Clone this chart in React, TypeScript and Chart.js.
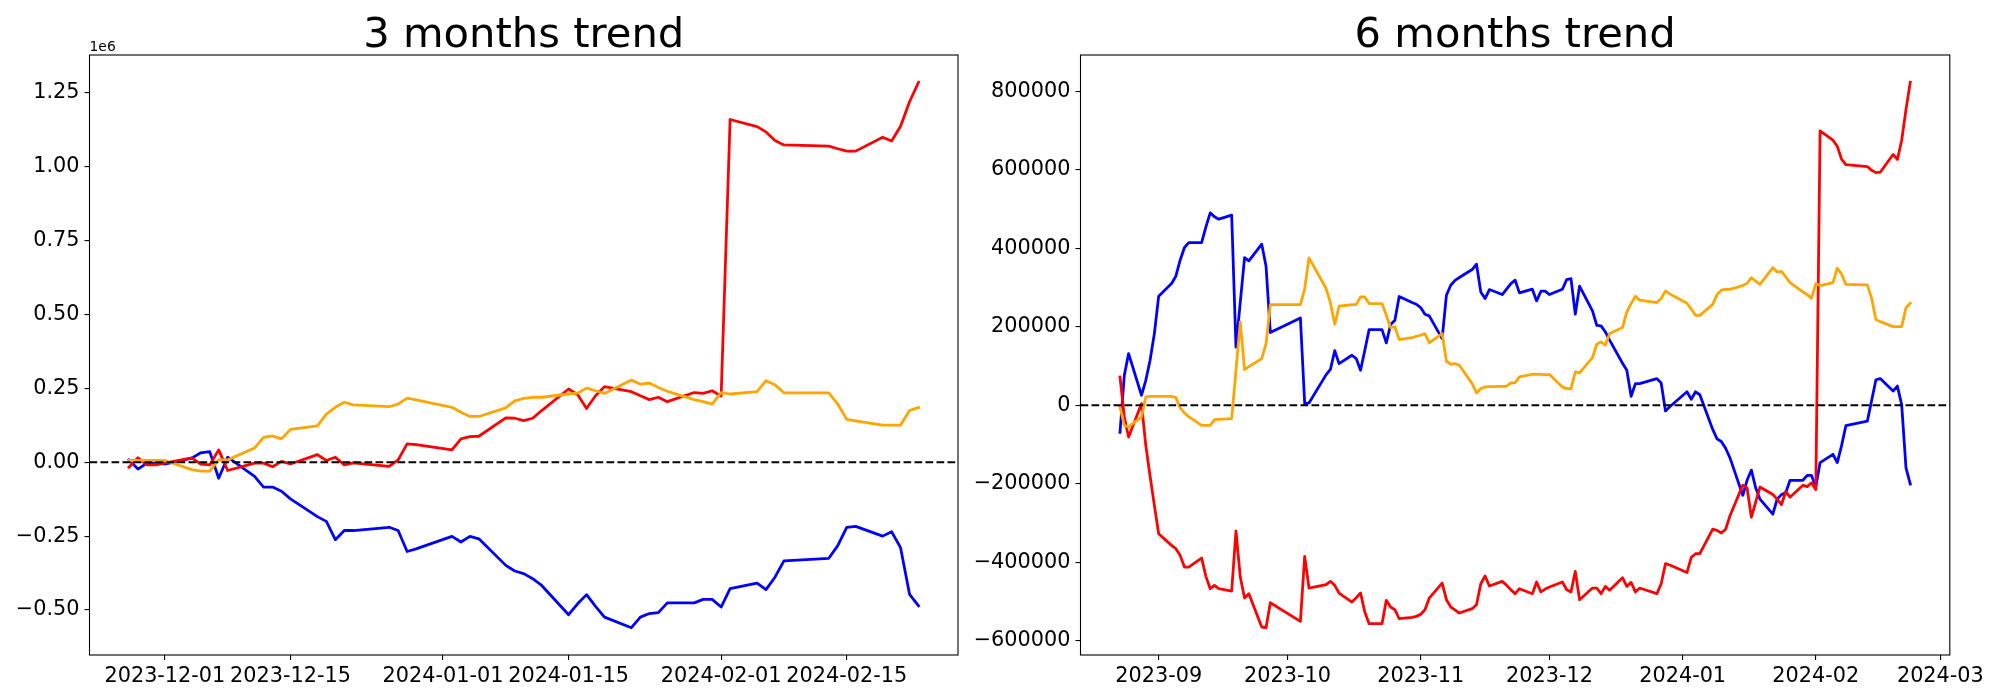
import React, { useEffect, useRef } from "react";
import { Chart, registerables } from "chart.js";

Chart.register(...registerables);

// ---------- 3 months trend (values in units of 1e6) ----------
const dates3m = [
  "2023-11-27", "2023-11-28", "2023-11-29", "2023-11-30", "2023-12-01",
  "2023-12-04", "2023-12-05", "2023-12-06", "2023-12-07", "2023-12-08",
  "2023-12-11", "2023-12-12", "2023-12-13", "2023-12-14", "2023-12-15",
  "2023-12-18", "2023-12-19", "2023-12-20", "2023-12-21", "2023-12-22",
  "2023-12-26", "2023-12-27", "2023-12-28", "2023-12-29",
  "2024-01-02", "2024-01-03", "2024-01-04", "2024-01-05",
  "2024-01-08", "2024-01-09", "2024-01-10", "2024-01-11", "2024-01-12",
  "2024-01-15", "2024-01-16", "2024-01-17", "2024-01-18", "2024-01-19",
  "2024-01-22", "2024-01-23", "2024-01-24", "2024-01-25", "2024-01-26",
  "2024-01-29", "2024-01-30", "2024-01-31", "2024-02-01", "2024-02-02",
  "2024-02-05", "2024-02-06", "2024-02-07", "2024-02-08",
  "2024-02-13", "2024-02-14", "2024-02-15", "2024-02-16",
  "2024-02-19", "2024-02-20", "2024-02-21", "2024-02-22", "2024-02-23",
];
const red3m = [
  -0.017, 0.015, -0.009, -0.009, -0.003,
  0.015, -0.006, -0.009, 0.042, -0.028,
  -0.003, -0.003, -0.015, 0.003, -0.006,
  0.026, 0.006, 0.017, -0.009, -0.002,
  -0.014, 0.008, 0.062, 0.06,
  0.042, 0.079, 0.087, 0.088,
  0.15, 0.149, 0.141, 0.149, 0.175,
  0.248, 0.229, 0.182, 0.225, 0.256,
  0.239, 0.225, 0.212, 0.22, 0.205,
  0.236, 0.233, 0.242, 0.224, 1.16,
  1.136, 1.118, 1.089, 1.074,
  1.07, 1.061, 1.053, 1.053,
  1.1, 1.087, 1.137, 1.22, 1.286,
];
const blue3m = [
  0.008, -0.023, -0.003, 0.0, -0.006,
  0.014, 0.032, 0.036, -0.054, 0.017,
  -0.048, -0.084, -0.084, -0.098, -0.124,
  -0.184, -0.2, -0.262, -0.231, -0.231,
  -0.22, -0.231, -0.302, -0.293,
  -0.251, -0.27, -0.251, -0.259,
  -0.349, -0.368, -0.377, -0.394, -0.417,
  -0.516, -0.479, -0.448, -0.488, -0.524,
  -0.56, -0.524, -0.512, -0.509, -0.476,
  -0.476, -0.464, -0.464, -0.49, -0.428,
  -0.409, -0.431, -0.389, -0.334,
  -0.325, -0.282, -0.22, -0.217,
  -0.25, -0.235, -0.289, -0.447, -0.486,
];
const orange3m = [
  0.006, 0.006, 0.006, 0.006, 0.006,
  -0.025, -0.03, -0.03, 0.008, 0.008,
  0.048, 0.084, 0.089, 0.079, 0.111,
  0.123, 0.163, 0.186, 0.203, 0.194,
  0.188, 0.197, 0.217, 0.211,
  0.186, 0.169, 0.155, 0.155,
  0.184, 0.208, 0.216, 0.22, 0.22,
  0.231, 0.234, 0.251, 0.242, 0.233,
  0.278, 0.264, 0.268, 0.253, 0.24,
  0.212, 0.205, 0.197, 0.236, 0.231,
  0.239, 0.276, 0.262, 0.235,
  0.235, 0.197, 0.145, 0.14,
  0.126, 0.126, 0.126, 0.175, 0.185,
];
const xTicks3m = ["2023-12-01", "2023-12-15", "2024-01-01", "2024-01-15", "2024-02-01", "2024-02-15"];
const yTicks3m = [-0.5, -0.25, 0, 0.25, 0.5, 0.75, 1.0, 1.25];

// ---------- 6 months trend ----------
const dates6m = [
  "2023-08-23", "2023-08-24", "2023-08-25", "2023-08-28", "2023-08-29", "2023-08-30", "2023-08-31",
  "2023-09-01", "2023-09-04", "2023-09-05", "2023-09-06", "2023-09-07", "2023-09-08",
  "2023-09-11", "2023-09-12", "2023-09-13", "2023-09-14", "2023-09-15",
  "2023-09-18", "2023-09-19", "2023-09-20", "2023-09-21", "2023-09-22",
  "2023-09-25", "2023-09-26", "2023-09-27",
  "2023-10-04", "2023-10-05", "2023-10-06",
  "2023-10-10", "2023-10-11", "2023-10-12", "2023-10-13",
  "2023-10-16", "2023-10-17", "2023-10-18", "2023-10-19", "2023-10-20",
  "2023-10-23", "2023-10-24", "2023-10-25", "2023-10-26", "2023-10-27",
  "2023-10-30", "2023-10-31", "2023-11-01", "2023-11-02", "2023-11-03",
  "2023-11-06", "2023-11-07", "2023-11-08", "2023-11-09", "2023-11-10",
  "2023-11-13", "2023-11-14", "2023-11-15", "2023-11-16", "2023-11-17",
  "2023-11-20", "2023-11-21", "2023-11-22", "2023-11-23", "2023-11-24",
  "2023-11-27", "2023-11-28", "2023-11-29", "2023-11-30", "2023-12-01",
  "2023-12-04", "2023-12-05", "2023-12-06", "2023-12-07", "2023-12-08",
  "2023-12-11", "2023-12-12", "2023-12-13", "2023-12-14", "2023-12-15",
  "2023-12-18", "2023-12-19", "2023-12-20", "2023-12-21", "2023-12-22",
  "2023-12-26", "2023-12-27", "2023-12-28", "2023-12-29",
  "2024-01-02", "2024-01-03", "2024-01-04", "2024-01-05",
  "2024-01-08", "2024-01-09", "2024-01-10", "2024-01-11", "2024-01-12",
  "2024-01-15", "2024-01-16", "2024-01-17", "2024-01-18", "2024-01-19",
  "2024-01-22", "2024-01-23", "2024-01-24", "2024-01-25", "2024-01-26",
  "2024-01-29", "2024-01-30", "2024-01-31", "2024-02-01", "2024-02-02",
  "2024-02-05", "2024-02-06", "2024-02-07", "2024-02-08",
  "2024-02-13", "2024-02-14", "2024-02-15", "2024-02-16",
  "2024-02-19", "2024-02-20", "2024-02-21", "2024-02-22", "2024-02-23",
];
const blue6m = [
  -69000, 76400, 131600, 25500, 63700, 114700, 182600,
  277700, 310000, 328700, 369400, 401700, 414400,
  414400, 454400, 490000, 480000, 473900,
  484100, 148000, 262000, 376200, 367700,
  410200, 354200, 185100,
  222500, 4200, 5900,
  78000, 91700, 139300, 106200,
  127400, 118900, 89200, 140000, 192800,
  192800, 158800, 205500, 216600, 277000,
  262000, 257300, 248800, 231900, 227600,
  169900, 280300, 305700, 318000, 325300,
  345700, 359300, 288800, 271800, 294700,
  282000, 296000, 310000, 318500, 286200,
  295600, 265800, 290500, 290500, 282000,
  295600, 320200, 322700, 231900, 303200,
  240300, 203800, 202100, 186800, 166000,
  107000, 89200, 22900, 55200, 55200,
  67900, 56900, -14400, -3900,
  34400, 15200, 34400, 26800,
  -61400, -85400, -92100, -109400, -133400,
  -229300, -191000, -165000, -210000, -239000,
  -277400, -239000, -227500, -222700, -191000,
  -191000, -178500, -178500, -208300, -146000,
  -124900, -146000, -102800, -52000,
  -40400, 12000, 65100, 68100,
  36400, 48900, 900, -159300, -200600,
];
const red6m = [
  72200, -29700, -80700, 4200, -102000, -180000, -255000,
  -327000, -356700, -365200, -382200, -411900, -411900,
  -389000, -435700, -467100, -458600, -467100,
  -473000, -320200, -437400, -490900, -479800,
  -564800, -566500, -502800,
  -550300, -384700, -465400,
  -456900, -448400, -458600, -478100,
  -501100, -490000, -478100, -526600, -556300,
  -556300, -496800, -513800, -520600, -543600,
  -540000, -537600, -532500, -520600, -490900,
  -452700, -495100, -513800, -521000, -529100,
  -518000, -507900, -454400, -434800, -460300,
  -448400, -458000, -469700, -479800, -467100,
  -479800, -450100, -475400, -468000, -462900,
  -450100, -469700, -475400, -422900, -495100,
  -465400, -465400, -479800, -461200, -471300,
  -439100, -461200, -451000, -475400, -465400,
  -479800, -454400, -403400, -406700,
  -425900, -387500, -377900, -377900,
  -315600, -318500, -325200, -315600, -282000,
  -203400, -210200, -285000, -246500, -208200,
  -227400, -238900, -253200, -219700, -234100,
  -203400, -207200, -197600, -214900, 699000,
  675000, 659600, 627000, 612700,
  607900, 598300, 592500, 593500,
  638600, 626100, 675000, 753600, 822600,
];
const orange6m = [
  -4200, -51000, -55200, -29700, 21200, 22900, 22900,
  22900, 22900, 19500, -6800, -19500, -29000,
  -51000, -51000, -51000, -36500, -36000,
  -34000, 89000, 212300, 90900, 98500,
  118900, 157100, 256500,
  256500, 297300, 375400,
  297300, 260700, 206400, 252200,
  256500, 256500, 276000, 276000, 259000,
  259000, 229300, 198000, 200000, 167300,
  172000, 175800, 178400, 182600, 158800,
  182600, 112100, 104500, 106200, 101900,
  55200, 31400, 42500, 46700, 47500,
  48000, 48400, 56900, 57800, 72200,
  79000, 78500, 78500, 78100, 78100,
  46700, 42500, 42500, 84900, 82400,
  121400, 155400, 161400, 152900, 182600,
  197900, 237800, 259000, 277700, 267500,
  261600, 271800, 291300, 283700,
  259800, 245000, 229100, 229100,
  256900, 281800, 293300, 295200, 295200,
  304800, 310500, 324900, 316000, 307700,
  350800, 339300, 341200, 326800, 312400,
  288500, 281800, 272200, 309600, 304800,
  312400, 349000, 334600, 307700,
  306700, 272200, 218500, 213000,
  200300, 200300, 200300, 248200, 259800,
];
const xTicks6m = ["2023-09", "2023-10", "2023-11", "2023-12", "2024-01", "2024-02", "2024-03"];
const yTicks6m = [-600000, -400000, -200000, 0, 200000, 400000, 600000, 800000];

const FONT = "'DejaVu Sans', 'Liberation Sans', sans-serif";

function toDay(s: string): number {
  const y = +s.slice(0, 4);
  const m = +s.slice(5, 7);
  const d = s.length >= 10 ? +s.slice(8, 10) : 1;
  return Date.UTC(y, m - 1, d) / 86400000;
}

const minus = (s: string) => s.replace("-", "\u2212");

const decorPlugin = {
  id: "decor",
  afterDatasetsDraw(chart: any) {
    const { ctx, chartArea: a, scales } = chart;
    const y0 = scales.y.getPixelForValue(0);
    ctx.save();
    ctx.beginPath();
    ctx.rect(a.left, a.top, a.right - a.left, a.bottom - a.top);
    ctx.clip();
    ctx.setLineDash([7.7, 3.3]);
    ctx.lineWidth = 2.08;
    ctx.strokeStyle = "#000";
    ctx.beginPath();
    ctx.moveTo(a.left, y0);
    ctx.lineTo(a.right, y0);
    ctx.stroke();
    ctx.restore();
  },
  afterDraw(chart: any, _args: any, opts: any) {
    const { ctx, chartArea: a } = chart;
    ctx.save();
    ctx.setLineDash([]);
    ctx.lineWidth = 1.1;
    ctx.strokeStyle = "#000";
    ctx.strokeRect(a.left, a.top, a.right - a.left, a.bottom - a.top);
    ctx.fillStyle = "#000";
    ctx.textBaseline = "alphabetic";
    ctx.textAlign = "center";
    ctx.font = `41.7px ${FONT}`;
    ctx.fillText(opts.title, (a.left + a.right) / 2, 47);
    if (opts.offsetText) {
      ctx.textAlign = "left";
      ctx.font = `13.9px ${FONT}`;
      ctx.fillText(opts.offsetText, a.left, 51);
    }
    ctx.restore();
  },
};

type Props = {
  title: string;
  dates: string[];
  red: number[];
  blue: number[];
  orange: number[];
  xTicks: string[];
  yTicks: number[];
  yFormat: (v: number) => string;
  offsetText?: string;
  left: number;
  width: number;
  axisWidth: number;
  padRight: number;
};

function TrendChart(p: Props) {
  const ref = useRef<HTMLCanvasElement | null>(null);
  useEffect(() => {
    if (!ref.current) return;
    const xs = p.dates.map(toDay);
    const mk = (vals: number[]) => vals.map((v, i) => ({ x: xs[i], y: v }));
    const all = [...p.red, ...p.blue, ...p.orange];
    const yMin = Math.min(...all);
    const yMax = Math.max(...all);
    const ySpan = yMax - yMin;
    const xMin = Math.min(...xs);
    const xMax = Math.max(...xs);
    const xSpan = xMax - xMin;
    const tickVals = p.xTicks.map(toDay);
    const lineStyle = {
      borderWidth: 2.78,
      pointRadius: 0,
      tension: 0,
      borderJoinStyle: "round" as const,
      borderCapStyle: "square" as const,
      fill: false,
    };
    const chart = new Chart(ref.current, {
      type: "line",
      data: {
        datasets: [
          { data: mk(p.orange), borderColor: "#ffa500", ...lineStyle },
          { data: mk(p.red), borderColor: "#ff0000", ...lineStyle },
          { data: mk(p.blue), borderColor: "#0000ff", ...lineStyle },
        ],
      },
      options: {
        responsive: false,
        animation: false,
        events: [],
        layout: { padding: { left: 0, right: p.padRight, top: 55, bottom: 0 } },
        plugins: {
          legend: { display: false },
          tooltip: { enabled: false },
          title: { display: false },
          decor: { title: p.title, offsetText: p.offsetText },
        } as any,
        scales: {
          x: {
            type: "linear",
            min: xMin - 0.05 * xSpan,
            max: xMax + 0.05 * xSpan,
            border: { display: false },
            grid: {
              display: true,
              drawOnChartArea: false,
              drawTicks: true,
              tickLength: 5,
              color: "#000",
              lineWidth: 1.1,
            },
            ticks: {
              autoSkip: false,
              maxRotation: 0,
              minRotation: 0,
              padding: 4,
              color: "#000",
              font: { family: FONT, size: 20.8 },
              callback: (_v: any, i: number) => p.xTicks[i],
            },
            afterBuildTicks: (axis: any) => {
              axis.ticks = tickVals.map((v) => ({ value: v }));
            },
            afterFit: (axis: any) => {
              axis.height = 45;
            },
          },
          y: {
            type: "linear",
            min: yMin - 0.05 * ySpan,
            max: yMax + 0.05 * ySpan,
            border: { display: false },
            grid: {
              display: true,
              drawOnChartArea: false,
              drawTicks: true,
              tickLength: 5,
              color: "#000",
              lineWidth: 1.1,
            },
            ticks: {
              padding: 5,
              color: "#000",
              font: { family: FONT, size: 20.8 },
              callback: (v: any) => p.yFormat(Number(v)),
            },
            afterBuildTicks: (axis: any) => {
              axis.ticks = p.yTicks.map((v) => ({ value: v }));
            },
            afterFit: (axis: any) => {
              axis.width = p.axisWidth;
            },
          },
        },
      },
      plugins: [decorPlugin],
    });
    return () => chart.destroy();
  }, []);
  return (
    <canvas
      ref={ref}
      width={p.width}
      height={700}
      style={{ position: "absolute", left: p.left, top: 0, width: p.width, height: 700 }}
    />
  );
}

export default function App() {
  return (
    <div style={{ position: "fixed", left: 0, top: 0, width: 2000, height: 700, background: "#fff" }}>
      <TrendChart
        title="3 months trend"
        dates={dates3m}
        red={red3m}
        blue={blue3m}
        orange={orange3m}
        xTicks={xTicks3m}
        yTicks={yTicks3m}
        yFormat={(v) => minus(v.toFixed(2))}
        offsetText="1e6"
        left={0}
        width={1000}
        axisWidth={89.5}
        padRight={42}
      />
      <TrendChart
        title="6 months trend"
        dates={dates6m}
        red={red6m}
        blue={blue6m}
        orange={orange6m}
        xTicks={xTicks6m}
        yTicks={yTicks6m}
        yFormat={(v) => minus(String(Math.round(v)))}
        left={960}
        width={1040}
        axisWidth={120.5}
        padRight={50.2}
      />
    </div>
  );
}
